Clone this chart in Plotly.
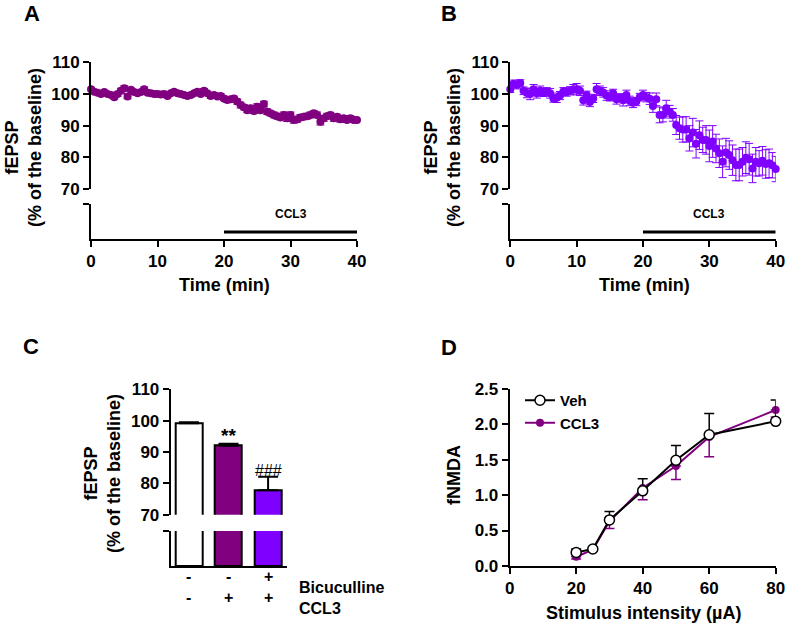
import plotly.graph_objects as go

W, H = 787, 625
FONT = "Liberation Sans, Arial, sans-serif"

# ---------------- data ----------------
time_min = [i * 0.5 for i in range(81)]

fepsp_A = [101.5, 100.7, 100.4, 100.0, 100.6, 100.0, 99.7, 99.0, 100.0, 101.0,
           101.8, 99.2, 101.3, 100.6, 100.2, 100.6, 101.5, 100.4, 100.2, 100.0,
           100.0, 99.8, 100.0, 99.4, 100.2, 100.7, 100.2, 100.0, 99.7, 99.4,
           99.7, 100.2, 100.7, 100.0, 101.0, 100.2, 99.4, 99.7, 99.2, 99.4,
           98.6, 98.1, 98.3, 98.6, 97.6, 96.5, 95.8, 94.9, 95.5, 94.6,
           96.0, 94.9, 96.8, 94.4, 93.9, 93.4, 93.0, 92.6, 93.4, 92.3,
           93.4, 91.8, 92.0, 92.6, 92.8, 93.0, 93.4, 93.9, 93.4, 91.2,
           92.3, 93.0, 93.4, 92.3, 92.8, 92.0, 92.3, 91.8, 92.3, 91.8, 91.8]
sem_A = [0.6, 0.5, 0.6, 0.5, 0.6, 0.7, 0.6, 0.6, 0.7, 0.8,
         0.8, 0.7, 0.6, 0.6, 0.5, 0.6, 0.7, 0.6, 0.6, 0.5,
         0.6, 0.6, 0.5, 0.6, 0.6, 0.7, 0.6, 0.6, 0.6, 0.6,
         0.7, 0.6, 0.7, 0.6, 0.7, 0.6, 0.8, 0.7, 0.6, 0.7,
         0.7, 0.8, 0.8, 0.7, 0.8, 0.9, 0.8, 0.8, 0.9, 0.8,
         0.9, 0.8, 0.9, 0.9, 0.8, 0.9, 0.9, 0.8, 0.9, 1.0,
         0.9, 1.0, 0.9, 0.9, 0.8, 0.9, 0.9, 0.8, 0.9, 1.0,
         0.9, 0.9, 0.8, 0.9, 0.8, 0.9, 0.8, 0.8, 0.8, 0.8, 0.8]

fepsp_B = [101.5, 103.2, 102.8, 103.5, 101.0, 100.3, 100.0, 101.5, 100.2, 101.0,
           100.5, 100.8, 100.2, 98.6, 98.8, 99.5, 100.8, 100.6, 101.0, 101.5,
           101.5, 101.0, 98.0, 99.7, 97.5, 98.6, 101.5, 101.0, 100.5, 99.5,
           99.0, 100.2, 98.3, 98.8, 98.0, 99.7, 97.8, 97.2, 97.6, 99.0,
           99.7, 99.0, 98.5, 96.2, 98.3, 93.4, 93.4, 95.5, 94.4, 93.4,
           90.2, 89.2, 88.8, 88.8, 86.0, 87.8, 84.3, 87.0, 85.5, 85.5,
           83.6, 85.0, 82.8, 81.3, 78.6, 81.5, 80.7, 79.1, 77.6, 77.6,
           78.6, 79.9, 79.4, 76.5, 78.6, 78.1, 78.9, 77.9, 78.1, 77.5, 76.3]
sem_B = [1.0, 1.2, 1.2, 1.0, 1.2, 1.5, 1.8, 1.5, 1.5, 1.5,
         1.3, 1.2, 1.5, 1.2, 1.5, 1.3, 1.2, 1.3, 1.3, 1.5, 1.8,
         1.5, 1.5, 1.2, 1.5, 1.3, 1.8, 1.5, 1.5, 1.5, 1.2,
         1.3, 1.5, 1.3, 1.8, 1.5, 1.5, 1.5, 1.3, 1.2, 1.5,
         1.5, 1.8, 2.0, 2.0, 2.5, 2.2, 2.5, 2.0, 2.0, 3.0,
         3.5, 4.0, 4.0, 4.0, 4.5, 4.5, 4.5, 4.0, 4.5, 5.0,
         5.0, 4.5, 4.5, 5.0, 4.5, 4.5, 4.8, 5.0, 5.0, 4.5,
         5.0, 5.0, 4.5, 4.5, 4.0, 4.5, 4.5, 4.5, 4.0, 4.0]

ccl3_period = [20, 40]

bar_groups = [0, 1, 2]
bar_values = [99.2, 92.0, 77.8]
bar_sem = [0.3, 0.6, 4.3]
bar_marks = ["", "**", "###"]
bicuculline_row = ["-", "-", "+"]
ccl3_row = ["-", "+", "+"]

stim_uA = [20, 25, 30, 40, 50, 60, 80]
fnmda_veh = [0.19, 0.24, 0.65, 1.06, 1.49, 1.85, 2.04]
fnmda_veh_sem = [0.05, 0.01, 0.12, 0.17, 0.21, 0.30, 0.30]
fnmda_ccl3 = [0.13, 0.23, 0.63, 1.10, 1.41, 1.82, 2.20]
fnmda_ccl3_sem = [0.03, 0.02, 0.10, 0.165, 0.19, 0.28, 0.10]

PURPLE = "#800080"
VIOLET = "#8000FF"


def fx(px):
    return px / W


def fy(py):
    return 1 - py / H


def ydom(top, bottom):
    return [fy(bottom), fy(top)]


def xdom(left, right):
    return [fx(left), fx(right)]


fig = go.Figure()

# ---------------- panel A & B time courses ----------------
for (vals, sems, col, xa, yu, yl) in [
    (fepsp_A, sem_A, PURPLE, "x", "y", "y2"),
    (fepsp_B, sem_B, VIOLET, "x2", "y3", "y4"),
]:
    fig.add_trace(go.Scatter(
        x=time_min, y=vals, mode="markers", xaxis=xa, yaxis=yu,
        marker=dict(color=col, size=8, line=dict(width=0)),
        error_y=dict(type="data", array=sems, color=col, thickness=1, width=4),
        cliponaxis=False, showlegend=False, hoverinfo="skip"))
    fig.add_trace(go.Scatter(
        x=ccl3_period, y=[0.2, 0.2], mode="lines", xaxis=xa, yaxis=yl,
        line=dict(color="black", width=3), showlegend=False, hoverinfo="skip",
        cliponaxis=False))

# ---------------- panel C bars ----------------
bar_colors = ["white", PURPLE, VIOLET]
fig.add_trace(go.Bar(
    x=bar_groups, y=bar_values, xaxis="x3", yaxis="y5", width=0.68,
    marker=dict(color=bar_colors, line=dict(color="black", width=2)),
    error_y=dict(type="data", symmetric=False, array=bar_sem,
                 arrayminus=[0] * len(bar_sem), color="black", thickness=2, width=10),
    showlegend=False, hoverinfo="skip"))
fig.add_trace(go.Bar(
    x=bar_groups, y=bar_values, xaxis="x3", yaxis="y6", width=0.68,
    marker=dict(color=bar_colors, line=dict(color="black", width=2)),
    showlegend=False, hoverinfo="skip"))

# ---------------- panel D ----------------
fig.add_trace(go.Scatter(
    x=stim_uA, y=fnmda_ccl3, mode="lines+markers", name="CCL3",
    xaxis="x4", yaxis="y7",
    line=dict(color=PURPLE, width=2),
    marker=dict(color=PURPLE, size=8, symbol="circle"),
    error_y=dict(type="data", symmetric=False, array=[0] * len(stim_uA),
                 arrayminus=fnmda_ccl3_sem, color=PURPLE, thickness=1.5, width=5),
    cliponaxis=False, hoverinfo="skip"))
fig.add_trace(go.Scatter(
    x=stim_uA, y=fnmda_veh, mode="lines+markers", name="Veh",
    xaxis="x4", yaxis="y7",
    line=dict(color="black", width=2),
    marker=dict(color="white", size=10, symbol="circle",
                line=dict(color="black", width=1.5)),
    error_y=dict(type="data", symmetric=False, array=fnmda_veh_sem,
                 arrayminus=[0] * len(stim_uA), color="black", thickness=1.5, width=5),
    cliponaxis=False, hoverinfo="skip"))

# ---------------- axes ----------------
tickfont = dict(family=FONT, size=17, color="black", weight="bold")
common = dict(showline=True, linecolor="black", linewidth=2, ticks="outside",
              ticklen=6, tickwidth=2, tickcolor="black", showgrid=False,
              zeroline=False, tickfont=tickfont, automargin=False, fixedrange=True)
brk = dict(showline=True, linecolor="black", linewidth=2, ticks="outside",
           ticklen=6, tickwidth=2, tickcolor="black", showgrid=False,
           zeroline=False, range=[0, 1], tickvals=[1], ticktext=[""],
           automargin=False, fixedrange=True)

fig.update_layout(
    xaxis=dict(common, domain=xdom(91, 357), range=[0, 40], anchor="y2",
               tickvals=[0, 10, 20, 30, 40]),
    yaxis=dict(common, domain=ydom(62.3, 189), range=[70, 110], anchor="x",
               tickvals=[70, 80, 90, 100, 110]),
    yaxis2=dict(brk, domain=ydom(204, 239), anchor="x"),
    xaxis2=dict(common, domain=xdom(510.3, 775.7), range=[0, 40], anchor="y4",
                tickvals=[0, 10, 20, 30, 40]),
    yaxis3=dict(common, domain=ydom(62.3, 189), range=[70, 110], anchor="x2",
                tickvals=[70, 80, 90, 100, 110]),
    yaxis4=dict(brk, domain=ydom(204, 239), anchor="x2"),
    xaxis3=dict(common, domain=xdom(170.7, 286.7), range=[-0.46, 2.47], anchor="y6",
                ticks="", showticklabels=False),
    yaxis5=dict(common, domain=ydom(389.3, 514.7), range=[70, 110], anchor="x3",
                tickvals=[70, 80, 90, 100, 110]),
    yaxis6=dict(brk, domain=ydom(531, 566), anchor="x3"),
    xaxis4=dict(common, domain=xdom(509.7, 775.7), range=[0, 80], anchor="y7",
                tickvals=[0, 20, 40, 60, 80]),
    yaxis7=dict(common, domain=ydom(388.7, 566), range=[0, 2.5], anchor="x4",
                tickvals=[0, 0.5, 1.0, 1.5, 2.0, 2.5], tickformat=".1f"),
    width=W, height=H,
    margin=dict(l=0, r=0, t=0, b=0),
    plot_bgcolor="white", paper_bgcolor="white",
    font=dict(family=FONT, color="black"),
    showlegend=True,
    legend=dict(x=fx(520), y=fy(384), xanchor="left", yanchor="top",
                font=dict(family=FONT, size=15, weight="bold", color="black"),
                bgcolor="rgba(0,0,0,0)", traceorder="reversed",
                itemwidth=30, tracegroupgap=0),
    bargap=0,
)

ann = []


def text(x, y, s, size, angle=0, xanchor="center", yanchor="middle", weight="bold",
         xref="paper", yref="paper"):
    ann.append(dict(x=x, y=y, xref=xref, yref=yref, text=s, showarrow=False,
                    textangle=angle, xanchor=xanchor, yanchor=yanchor,
                    font=dict(family=FONT, size=size, color="black", weight=weight)))


# panel letters
text(fx(32), fy(14), "A", 22)
text(fx(449), fy(14), "B", 22)
text(fx(31), fy(346), "C", 22)
text(fx(449), fy(347), "D", 22)

# y titles
ytitle = "fEPSP<br>(% of the baseline)"
text(fx(23), fy(148), ytitle, 18, angle=-90)
text(fx(442), fy(148), ytitle, 18, angle=-90)
text(fx(102), fy(474), ytitle, 18, angle=-90)
text(fx(454), fy(475), "fNMDA", 18, angle=-90)

# x titles
text(fx(224), fy(285), "Time (min)", 18)
text(fx(644), fy(285), "Time (min)", 18)
text(fx(643), fy(613), "Stimulus intensity (µA)", 18)

# CCL3 application labels
for xa in ["x", "x2"]:
    ann.append(dict(x=sum(ccl3_period) / 2, y=0.2, xref=xa,
                    yref="y2" if xa == "x" else "y4", yshift=9,
                    text="CCL3", showarrow=False, xanchor="center", yanchor="bottom",
                    font=dict(family=FONT, size=12, color="black", weight="bold")))

# significance marks in C
mark_style = {"**": dict(size=19, weight="bold"), "###": dict(size=16, weight="normal")}
for g, v, e, m in zip(bar_groups, bar_values, bar_sem, bar_marks):
    if m:
        ann.append(dict(x=g, y=v + e, xref="x3", yref="y5", text=m, showarrow=False,
                        xanchor="center", yanchor="bottom", yshift=-4,
                        font=dict(family=FONT, color="black", **mark_style[m])))

# treatment rows in C
for g, b, c in zip(bar_groups, bicuculline_row, ccl3_row):
    ann.append(dict(x=g, y=fy(587), xref="x3", yref="paper", text=b, showarrow=False,
                    font=dict(family=FONT, size=16, color="black", weight="bold")))
    ann.append(dict(x=g, y=fy(608), xref="x3", yref="paper", text=c, showarrow=False,
                    font=dict(family=FONT, size=16, color="black", weight="bold")))
text(fx(297), fy(587), "Bicuculline", 16, xanchor="left")
text(fx(297), fy(608), "CCL3", 16, xanchor="left")

fig.update_layout(annotations=ann)

fig.write_html("out.html", post_script="document.body.style.margin='0';",
               config={"displayModeBar": False})
